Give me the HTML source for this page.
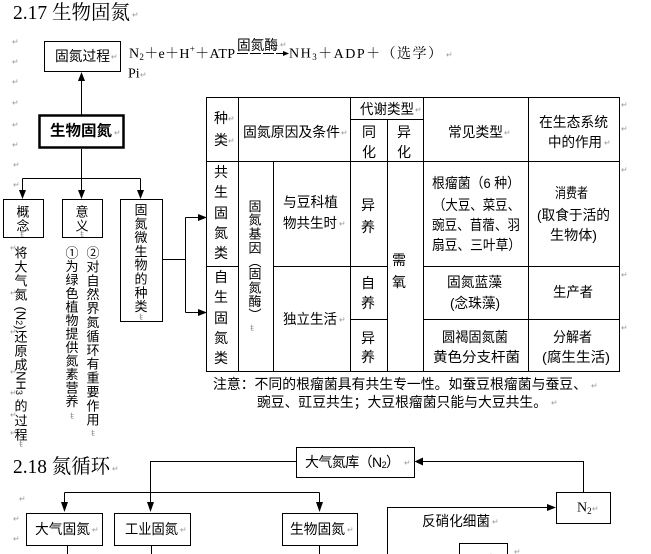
<!DOCTYPE html>
<html>
<head>
<meta charset="utf-8">
<style>
html,body{margin:0;padding:0;background:#fff;}
svg{display:block;}
text{font-family:"Liberation Sans","Noto Sans CJK SC",sans-serif;font-size:14px;dominant-baseline:central;fill:#000;}
.s{font-family:"Liberation Serif","Noto Serif CJK SC",serif;}
.m{text-anchor:middle;}
.v{text-anchor:middle;font-size:13px;}
.g{font-family:"DejaVu Sans",sans-serif;font-size:8px;fill:#999;}
.t{font-family:"DejaVu Sans",sans-serif;font-size:9px;fill:#999;text-anchor:middle;}
line,rect,path{stroke:#000;stroke-width:1;fill:none;}
polygon{fill:#000;stroke:none;}
</style>
</head>
<body>
<svg width="651" height="554" viewBox="0 0 651 554" xmlns="http://www.w3.org/2000/svg">

<!-- ===== Title 2.17 ===== -->
<text class="s" x="13" y="13" style="font-size:20px" textLength="117" lengthAdjust="spacingAndGlyphs">2.17 生物固氮</text>
<text class="g" x="132" y="15">↵</text>

<!-- left margin marks -->
<text class="g" x="12" y="42">↵</text>
<text class="g" x="12" y="62">↵</text>
<text class="g" x="12" y="82">↵</text>
<text class="g" x="12" y="103">↵</text>
<text class="g" x="12" y="125">↵</text>
<text class="g" x="12" y="145">↵</text>
<text class="g" x="13" y="165">↵</text>
<text class="g" x="13" y="185">↵</text>

<!-- 固氮过程 box -->
<rect x="44.5" y="41.5" width="76" height="30"/>
<text x="55" y="56" textLength="55" lengthAdjust="spacingAndGlyphs">固氮过程</text>
<text class="g" x="111" y="57">↵</text>

<!-- formula -->
<text class="s" x="129" y="54" textLength="106" lengthAdjust="spacing">N<tspan style="font-size:9px" dy="3">2</tspan><tspan dy="-3">＋e＋H</tspan><tspan style="font-size:9px" dy="-5">+</tspan><tspan dy="5">＋ATP</tspan></text>
<text x="237" y="45" textLength="41" lengthAdjust="spacingAndGlyphs">固氮酶</text>
<text class="g" x="280" y="45">↵</text>
<line x1="237" y1="53.5" x2="285" y2="53.5" stroke-dasharray="11 2"/>
<polygon points="283,51 283,56 289,53.5"/>
<text class="s" x="289" y="54" textLength="153" lengthAdjust="spacing">NH<tspan style="font-size:9px" dy="3">3</tspan><tspan dy="-3">＋ADP＋（选学）</tspan></text>
<text class="g" x="446" y="55">↵</text>
<text class="s" x="128" y="74">Pi</text>
<text class="g" x="140" y="75">↵</text>

<!-- arrow up to 固氮过程 -->
<path d="M81.5 80 V115"/>
<polygon points="81.5,72 78,81 85,81"/>

<!-- 生物固氮 bold box -->
<rect x="39.5" y="115.5" width="84" height="32" style="stroke-width:2.5"/>
<text x="50" y="131" style="font-size:15px;font-weight:bold" textLength="62" lengthAdjust="spacingAndGlyphs">生物固氮</text>
<text class="g" x="114" y="133">↵</text>

<!-- branches down -->
<path d="M81.5 149 V178.5 M22.5 178.5 H140.5 M22.5 178.5 V191 M81.5 178.5 V191 M140.5 178.5 V191"/>
<polygon points="19,190 26,190 22.5,199"/>
<polygon points="78,190 85,190 81.5,199"/>
<polygon points="137,190 144,190 140.5,199"/>

<!-- 概念 -->
<rect x="3.5" y="199.5" width="40" height="38"/>
<text class="v" x="23" y="212">概</text>
<text class="v" x="23" y="226">念</text>
<text class="t" x="22" y="235">ŧ</text>

<!-- 意义 -->
<rect x="62.5" y="199.5" width="40" height="38"/>
<text class="v" x="82" y="212">意</text>
<text class="v" x="82" y="226">义</text>
<text class="t" x="82" y="235">ŧ</text>

<!-- 固氮微生物的种类 -->
<rect x="120.5" y="199.5" width="42" height="122"/>
<text class="v" x="141" y="210">固</text>
<text class="v" x="141" y="223.8">氮</text>
<text class="v" x="141" y="237.6">微</text>
<text class="v" x="141" y="251.4">生</text>
<text class="v" x="141" y="265.2">物</text>
<text class="v" x="141" y="279">的</text>
<text class="v" x="141" y="292.8">种</text>
<text class="v" x="141" y="306.6">类</text>
<text class="t" x="141" y="318">ŧ</text>

<!-- connectors to table -->
<path d="M162.5 259.5 H185.5 M185.5 217.5 V312.5 M185.5 217.5 H199 M185.5 312.5 H199"/>
<polygon points="198,214 198,221 207,217.5"/>
<polygon points="198,309 198,316 207,312.5"/>

<!-- column A: 将大气氮(N2)还原成NH3的过程 -->
<text class="v" x="21" y="253">将</text>
<text class="v" x="21" y="267">大</text>
<text class="v" x="21" y="281">气</text>
<text class="v" x="21" y="295">氮</text>
<text transform="translate(21,318) rotate(90)" style="font-size:13px;text-anchor:middle">(N<tspan style="font-size:9px" dy="2">2</tspan><tspan dy="-2">)</tspan></text>
<text class="v" x="21" y="337">还</text>
<text class="v" x="21" y="351">原</text>
<text class="v" x="21" y="365">成</text>
<text transform="translate(21,383) rotate(90)" style="font-size:13px;text-anchor:middle">NH<tspan style="font-size:9px" dy="2">3</tspan></text>
<text class="v" x="21" y="406">的</text>
<text class="v" x="21" y="421">过</text>
<text class="v" x="21" y="435">程</text>
<text class="t" x="21" y="445">ŧ</text>
<text class="g" x="10" y="248">↵</text>
<text class="g" x="10" y="293">↵</text>
<text class="g" x="10" y="332">↵</text>
<text class="g" x="10" y="372">↵</text>
<text class="g" x="10" y="393">↵</text>
<text class="g" x="10" y="415">↵</text>
<text class="g" x="10" y="433">↵</text>

<!-- column B -->
<text class="v" x="72" y="252.8">①</text>
<text class="v" x="72" y="266.3">为</text>
<text class="v" x="72" y="279.8">绿</text>
<text class="v" x="72" y="293.3">色</text>
<text class="v" x="72" y="306.8">植</text>
<text class="v" x="72" y="320.3">物</text>
<text class="v" x="72" y="333.8">提</text>
<text class="v" x="72" y="347.3">供</text>
<text class="v" x="72" y="360.8">氮</text>
<text class="v" x="72" y="374.3">素</text>
<text class="v" x="72" y="387.8">营</text>
<text class="v" x="72" y="401.3">养</text>
<text class="t" x="72" y="417">ŧ</text>

<!-- column C -->
<text class="v" x="93" y="253">②</text>
<text class="v" x="93" y="266.9">对</text>
<text class="v" x="93" y="280.8">自</text>
<text class="v" x="93" y="294.7">然</text>
<text class="v" x="93" y="308.6">界</text>
<text class="v" x="93" y="322.5">氮</text>
<text class="v" x="93" y="336.4">循</text>
<text class="v" x="93" y="350.3">环</text>
<text class="v" x="93" y="364.2">有</text>
<text class="v" x="93" y="378.1">重</text>
<text class="v" x="93" y="392">要</text>
<text class="v" x="93" y="405.9">作</text>
<text class="v" x="93" y="419.8">用</text>
<text class="t" x="93" y="434">ŧ</text>

<!-- ===== Table ===== -->
<rect x="206.5" y="97.5" width="413" height="274"/>
<path d="M350.5 119.5 H423.5
 M206.5 161.5 H619.5
 M206.5 266.5 H238.5 M273.5 266.5 H387.5 M423.5 266.5 H619.5
 M350.5 319.5 H387.5 M423.5 319.5 H619.5
 M238.5 97.5 V371.5 M273.5 161.5 V371.5 M350.5 97.5 V371.5 M387.5 119.5 V371.5 M423.5 97.5 V371.5 M528.5 97.5 V371.5"/>

<!-- header -->
<text class="m" x="221" y="118">种</text>
<text class="m" x="221" y="140">类</text>
<text class="g" x="228" y="119">↵</text>
<text class="g" x="228" y="141">↵</text>
<text x="243" y="132" textLength="97" lengthAdjust="spacingAndGlyphs">固氮原因及条件</text>
<text class="g" x="341" y="133">↵</text>
<text x="360" y="109" textLength="54" lengthAdjust="spacingAndGlyphs">代谢类型</text>
<text class="g" x="415" y="110">↵</text>
<text class="m" x="369" y="132">同</text>
<text class="m" x="369" y="152">化</text>
<text class="m" x="404" y="132">异</text>
<text class="m" x="404" y="152">化</text>
<text x="448" y="132" textLength="55" lengthAdjust="spacingAndGlyphs">常见类型</text>
<text class="g" x="504" y="133">↵</text>
<text x="539" y="122" textLength="69" lengthAdjust="spacingAndGlyphs">在生态系统</text>
<text x="548" y="142" textLength="54" lengthAdjust="spacingAndGlyphs">中的作用</text>
<text class="g" x="604" y="143">↵</text>

<!-- 共生固氮类 -->
<text class="m" x="221" y="172">共</text>
<text class="m" x="221" y="192">生</text>
<text class="m" x="221" y="213">固</text>
<text class="m" x="221" y="233">氮</text>
<text class="m" x="221" y="253">类</text>
<!-- 自生固氮类 -->
<text class="m" x="221" y="277">自</text>
<text class="m" x="221" y="297">生</text>
<text class="m" x="221" y="318">固</text>
<text class="m" x="221" y="338">氮</text>
<text class="m" x="221" y="358">类</text>

<!-- 固氮基因（固氮酶） vertical -->
<text class="v" x="255" y="206.5">固</text>
<text class="v" x="255" y="220">氮</text>
<text class="v" x="255" y="234">基</text>
<text class="v" x="255" y="248">因</text>
<text class="v" x="255" y="262">︵</text>
<text class="v" x="255" y="274">固</text>
<text class="v" x="255" y="288">氮</text>
<text class="v" x="255" y="301.5">酶</text>
<text class="v" x="255" y="315">︶</text>
<text class="t" x="252" y="329">ŧ</text>

<text x="283" y="202" textLength="55" lengthAdjust="spacingAndGlyphs">与豆科植</text>
<text x="283" y="223" textLength="54" lengthAdjust="spacingAndGlyphs">物共生时</text>
<text class="g" x="339" y="224">↵</text>
<text x="283" y="319" textLength="54" lengthAdjust="spacingAndGlyphs">独立生活</text>
<text class="g" x="339" y="320">↵</text>

<text class="m" x="368" y="205">异</text>
<text class="m" x="368" y="227">养</text>
<text class="m" x="399" y="260">需</text>
<text class="m" x="399" y="282">氧</text>
<text class="m" x="368" y="283">自</text>
<text class="m" x="368" y="303">养</text>
<text class="m" x="368" y="338">异</text>
<text class="m" x="368" y="357">养</text>

<!-- 常见类型 column -->
<text x="432" y="183" textLength="88" lengthAdjust="spacingAndGlyphs">根瘤菌（6 种）</text>
<text x="433" y="205" textLength="87" lengthAdjust="spacingAndGlyphs">（大豆、菜豆、</text>
<text x="432" y="225" textLength="88" lengthAdjust="spacingAndGlyphs">豌豆、苜蓿、羽</text>
<text x="432" y="245" textLength="89" lengthAdjust="spacingAndGlyphs">扇豆、三叶草）</text>
<text x="447" y="282" textLength="55" lengthAdjust="spacingAndGlyphs">固氮蓝藻</text>
<text x="450" y="303" textLength="50" lengthAdjust="spacingAndGlyphs">(念珠藻)</text>
<text x="442" y="337" textLength="66" lengthAdjust="spacingAndGlyphs">圆褐固氮菌</text>
<text x="433" y="357" textLength="87" lengthAdjust="spacingAndGlyphs">黄色分支杆菌</text>

<!-- 作用 column -->
<text x="555" y="193" textLength="33" lengthAdjust="spacingAndGlyphs">消费者</text>
<text x="537" y="215" textLength="73" lengthAdjust="spacingAndGlyphs">(取食于活的</text>
<text x="550" y="235" textLength="47" lengthAdjust="spacingAndGlyphs">生物体)</text>
<text x="553" y="292" textLength="40" lengthAdjust="spacingAndGlyphs">生产者</text>
<text x="553" y="337" textLength="39" lengthAdjust="spacingAndGlyphs">分解者</text>
<text x="542" y="357" textLength="68" lengthAdjust="spacingAndGlyphs">(腐生生活)</text>

<!-- marks right of table -->
<text class="g" x="621" y="105">↵</text>
<text class="g" x="621" y="129">↵</text>
<text class="g" x="621" y="170">↵</text>
<text class="g" x="621" y="275">↵</text>
<text class="g" x="621" y="328">↵</text>

<!-- notes -->
<text x="213" y="384" textLength="374" lengthAdjust="spacingAndGlyphs">注意：不同的根瘤菌具有共生专一性。如蚕豆根瘤菌与蚕豆、</text>
<text class="g" x="591" y="386">↵</text>
<text x="257" y="402" textLength="290" lengthAdjust="spacingAndGlyphs">豌豆、豇豆共生；大豆根瘤菌只能与大豆共生。</text>
<text class="g" x="551" y="403">↵</text>

<!-- ===== 2.18 ===== -->
<text class="s" x="13" y="467" style="font-size:20px" textLength="97" lengthAdjust="spacingAndGlyphs">2.18 氮循环</text>
<text class="g" x="112" y="469">↵</text>
<text class="g" x="19" y="499">↵</text>
<text class="g" x="13" y="519">↵</text>
<text class="g" x="13" y="539">↵</text>

<!-- 大气氮库 -->
<rect x="296.5" y="447.5" width="118" height="30"/>
<text x="305" y="462" textLength="95" lengthAdjust="spacing">大气氮库（N<tspan style="font-size:9px" dy="3">2</tspan><tspan dy="-3">）</tspan></text>
<text class="g" x="404" y="463">↵</text>

<path d="M296 461.5 H150.5 V503 M64.5 492.5 H319.5 M64.5 492.5 V503 M319.5 492.5 V503"/>
<polygon points="147,502 154,502 150.5,512"/>
<polygon points="61,502 68,502 64.5,512"/>
<polygon points="316,502 323,502 319.5,512"/>

<rect x="26.5" y="513.5" width="76" height="32"/>
<text x="35" y="529" textLength="55" lengthAdjust="spacingAndGlyphs">大气固氮</text>
<text class="g" x="92" y="530">↵</text>
<rect x="114.5" y="513.5" width="76" height="32"/>
<text x="125" y="529" textLength="53" lengthAdjust="spacingAndGlyphs">工业固氮</text>
<text class="g" x="180" y="530">↵</text>
<rect x="282.5" y="513.5" width="75" height="32"/>
<text x="290" y="529" textLength="55" lengthAdjust="spacingAndGlyphs">生物固氮</text>
<text class="g" x="347" y="530">↵</text>
<path d="M67.5 545.5 V554 M151.5 545.5 V554 M319.5 545.5 V554"/>

<!-- right loop -->
<path d="M423 461.5 H583.5 V492.5"/>
<polygon points="414.5,461.5 423,457.5 423,465.5"/>
<rect x="556.5" y="492.5" width="54" height="31"/>
<text class="s" x="577" y="508">N<tspan style="font-size:9px" dy="3">2</tspan></text>
<text class="g" x="592" y="509">↵</text>
<path d="M387.5 554 V507.5 H547"/>
<polygon points="547,504 547,511 556,507.5"/>
<text x="422" y="521" textLength="68" lengthAdjust="spacingAndGlyphs">反硝化细菌</text>
<text class="g" x="492" y="522">↵</text>

<rect x="459.5" y="543.5" width="48" height="20"/>
<text x="470" y="561" textLength="28" lengthAdjust="spacingAndGlyphs">尿素</text>
<text class="g" x="514" y="552">↵</text>
</svg>
</body>
</html>
